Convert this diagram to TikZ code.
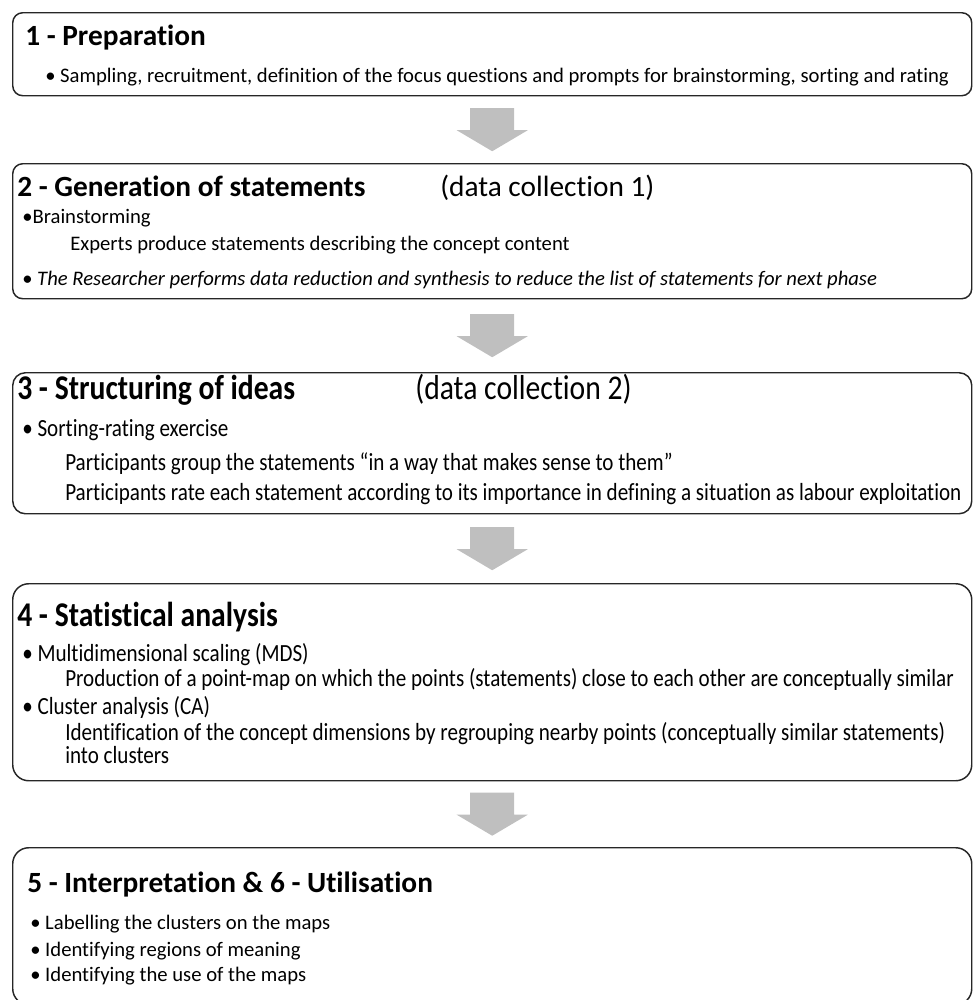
\documentclass[tikz,border=0pt]{standalone}
\usepackage{fontspec}
\setmainfont{Carlito}[Ligatures=NoCommon]
\newfontfamily\narrowfont[FakeStretch=0.855,Ligatures=NoCommon]{Carlito}
\usetikzlibrary{positioning,calc}

\tikzset{
	stage/.style={draw=black!85, line width=1.1pt, rounded corners=7.5pt, anchor=north west,
		inner sep=0pt, minimum width=719.25pt},
	ttl/.style={anchor=base west, inner sep=0pt, font=\fontsize{22}{26}\selectfont\bfseries},
	sub/.style={anchor=base west, inner sep=0pt, font=\fontsize{22}{26}\selectfont},
	txt/.style={anchor=base west, inner sep=0pt, font=\fontsize{15.5}{18}\selectfont},
	nttl/.style={ttl, font=\fontsize{26}{30}\narrowfont\bfseries},
	nsub/.style={sub, font=\fontsize{26}{30}\narrowfont},
	ntxt/.style={txt, font=\fontsize{18.5}{22}\narrowfont},
	flow/.style={fill=black!25},
}

\begin{document}
\begin{tikzpicture}[x=0.75pt, y=-0.75pt]
	\useasboundingbox (0,0) rectangle (972,1000);

	% stages
	\node[stage, minimum height=62.25pt] (s1) at (12,12) {};
	\node[stage, minimum height=101.25pt] (s2) at (12,163) {};
	\node[stage, minimum height=105.75pt, rounded corners=9.5pt] (s3) at (12,372) {};
	\node[stage, minimum height=147.75pt, rounded corners=12pt] (s4) at (12,583) {};
	\node[stage, minimum height=117.75pt, rounded corners=12pt] (s5) at (12,847) {};

	% arrows between the stages
	\foreach \a/\b in {s1/s2, s2/s3, s3/s4, s4/s5}{
		\coordinate (m) at ($(\a.south)!0.5!(\b.north)$);
		\fill[flow] ($(m)+(-22,-21.5)$) -- ($(m)+(22,-21.5)$) -- ($(m)+(22,0.5)$)
			-- ($(m)+(35.5,0.5)$) -- ($(m)+(0,21.5)$) -- ($(m)+(-35.5,0.5)$)
			-- ($(m)+(-22,0.5)$) -- cycle;
	}

	% 1
	\node[ttl] (t1) at (25,45) {1 - Preparation};
	\node[txt] (p1) at (45,82) {• Sampling, recruitment, definition of the focus questions and prompts for brainstorming, sorting and rating};

	% 2
	\node[ttl] (t2) at (17,196) {2 - Generation of statements};
	\node[sub] (d2) at (440,196) {(data collection 1)};
	\node[txt] (p2a) at (22,223) {•Brainstorming};
	\node[txt] (p2b) at (70,250) {Experts produce statements describing the concept content};
	\node[txt] (p2c) at (22,285) {• \textit{The Researcher performs data reduction and synthesis to reduce the list of statements for next phase}};

	% 3
	\node[nttl] (t3) at (17,399) {3 - Structuring of ideas};
	\node[nsub] (d3) at (415,399) {(data collection 2)};
	\node[ntxt] (p3a) at (22,436) {• Sorting-rating exercise};
	\node[ntxt] (p3b) at (65,470) {Participants group the statements “in a way that makes sense to them”};
	\node[ntxt] (p3c) at (65,500) {Participants rate each statement according to its importance in defining a situation as labour exploitation};

	% 4
	\node[nttl] (t4) at (17,626) {4 - Statistical analysis};
	\node[ntxt] (p4a) at (22,661) {• Multidimensional scaling (MDS)};
	\node[ntxt] (p4b) at (65,686) {Production of a point-map on which the points (statements) close to each other are conceptually similar};
	\node[ntxt] (p4c) at (22,714) {• Cluster analysis (CA)};
	\node[ntxt] (p4d) at (65,740) {Identification of the concept dimensions by regrouping nearby points (conceptually similar statements)};
	\node[ntxt] (p4e) at (65,763) {into clusters};

	% 5
	\node[ttl] (t5) at (27,892) {5 - Interpretation \& 6 - Utilisation};
	\node[txt] (p5a) at (30,929) {• Labelling the clusters on the maps};
	\node[txt] (p5b) at (30,956) {• Identifying regions of meaning};
	\node[txt] (p5c) at (30,981) {• Identifying the use of the maps};
\end{tikzpicture}
\end{document}
